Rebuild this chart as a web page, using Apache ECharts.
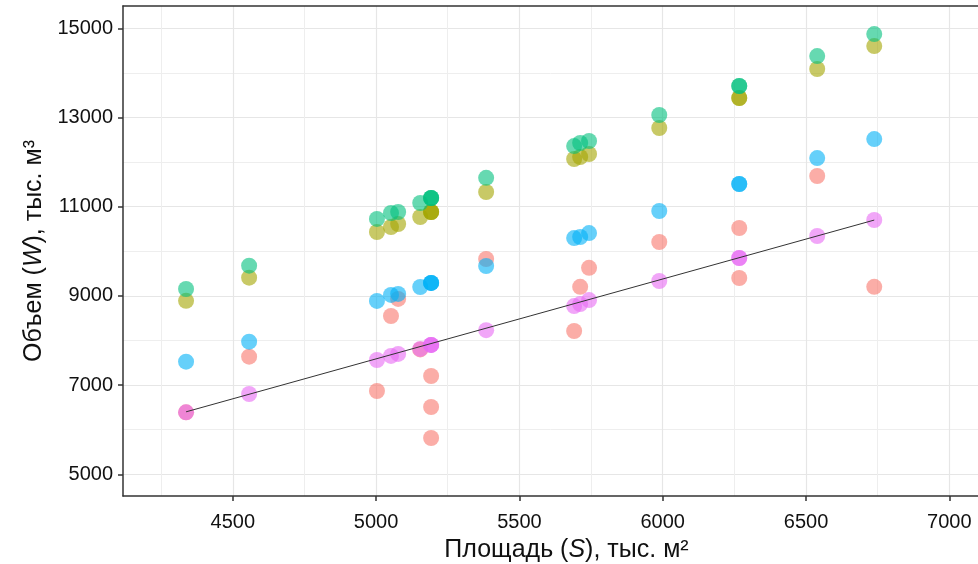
<!DOCTYPE html>
<html>
<head>
<meta charset="utf-8">
<script src="https://cdn.jsdelivr.net/npm/echarts@6/dist/echarts.min.js"></script>
<style>
  html, body { margin: 0; padding: 0; background: #fff; }
  #graph_1 { width: 978px; height: 564px; }
</style>
</head>
<body>
<div id="graph_1"></div>
<script>
// площадь объектов, тыс. м2 (по наблюдениям)
var area = [4337, 4557, 5003, 5052, 5077, 5154, 5192, 5192, 5192, 5384, 5691, 5712, 5743, 5988, 6267, 6267, 6539, 6738];

// объемы по пяти рядам, тыс. м3
var volRed     = [6390, 7637, 6868, 8549, 8933, 7800, 7204, 6509, 5814, 9827, 8212, 9204, 9630, 10208, 10522, 9401, 11688, 9204];
var volOlive   = [8890, 9408, 10433, 10545, 10612, 10769, 10881, 10881, 10881, 11329, 12069, 12114, 12181, 12764, 13437, 13437, 14087, 14602];
var volGreen   = [9154, 9677, 10725, 10859, 10881, 11083, 11195, 11195, 11195, 11648, 12360, 12428, 12473, 13056, 13706, 13706, 14378, 14871];
var volBlue    = [7524, 7973, 8887, 9022, 9045, 9200, 9291, 9291, 9291, 9670, 10297, 10320, 10409, 10903, 11509, 11509, 12091, 12517];
var volMagenta = [6390, 6800, 7563, 7653, 7698, 7810, 7900, 7900, 7900, 8232, 8772, 8817, 8906, 9334, 9850, 9850, 10343, 10702];

// линия тренда (концы)
var trendX = [4337, 6738];
var trendY = [6400, 10700];

// подписи осей
var xTicks = [4500, 5000, 5500, 6000, 6500, 7000];
var xMinor = [4250, 4750, 5250, 5750, 6250, 6750];
var yTicks = [5000, 7000, 9000, 11000, 13000, 15000];
var yMinor = [6000, 8000, 10000, 12000, 14000];

var colors = ['#F8766D', '#A3A500', '#00BF7D', '#00B0F6', '#E76BF3'];
var groups = [volRed, volOlive, volGreen, volBlue, volMagenta];

var FONT = 'Liberation Sans, Arial, sans-serif';
var xMin = 4117, xMax = 7100, yMin = 4513, yMax = 15500;

function pairs(xs, ys) {
    return xs.map(function (x, i) { return [x, ys[i]]; });
}
function plain(v) { return String(v); }

var myChart = echarts.init(document.getElementById('graph_1'));

var series = groups.map(function (vals, i) {
    return {
        type: 'scatter',
        data: pairs(area, vals),
        symbolSize: 16,
        itemStyle: { color: colors[i], opacity: 0.6 },
        z: 3
    };
});
series.push({
    type: 'line',
    data: pairs(trendX, trendY),
    symbol: 'none',
    lineStyle: { color: '#333', width: 1 },
    z: 5
});

function nameStyle(pad) {
    return {
        fontSize: 25, color: '#111', fontFamily: FONT, padding: pad,
        rich: { i: { fontStyle: 'italic', fontSize: 25, color: '#111', fontFamily: FONT } }
    };
}

var option = {
    animation: false,
    backgroundColor: '#fff',
    grid: { left: 123, top: 6, right: 0, bottom: 68, containLabel: false, outerBoundsMode: 'none' },
    xAxis: [
        {
            type: 'value', min: xMin, max: xMax, position: 'bottom',
            axisLine: { show: true, lineStyle: { color: '#333', width: 1.5 } },
            axisTick: { show: true, inside: false, length: 5, customValues: xTicks, lineStyle: { color: '#333', width: 1.5 } },
            axisLabel: { customValues: xTicks, formatter: plain, fontSize: 20, color: '#111', fontFamily: FONT, margin: 16 },
            splitLine: { show: true, lineStyle: { color: '#e6e6e6', width: 1.2 } },
            name: 'Площадь ({i|S}), тыс. м²',
            nameLocation: 'middle',
            nameGap: 42,
            nameTextStyle: nameStyle([0, 0, 0, 32])
        },
        {
            type: 'value', min: xMin, max: xMax, position: 'bottom',
            axisLine: { show: false },
            axisTick: { show: false, customValues: xMinor },
            axisLabel: { show: false },
            splitLine: { show: true, lineStyle: { color: '#eeeeee', width: 1 } }
        },
        {
            type: 'value', min: xMin, max: xMax, position: 'top',
            axisLine: { show: true, lineStyle: { color: '#333', width: 1.5 } },
            axisTick: { show: false },
            axisLabel: { show: false },
            splitLine: { show: false }
        }
    ],
    yAxis: [
        {
            type: 'value', min: yMin, max: yMax, position: 'left',
            axisLine: { show: true, lineStyle: { color: '#333', width: 1.5 } },
            axisTick: { show: true, inside: false, length: 5, customValues: yTicks, lineStyle: { color: '#333', width: 1.5 } },
            axisLabel: { customValues: yTicks, formatter: plain, fontSize: 20, color: '#111', fontFamily: FONT, margin: 10 },
            splitLine: { show: true, lineStyle: { color: '#e6e6e6', width: 1.2 } },
            name: 'Объем ({i|W}), тыс. м³',
            nameLocation: 'middle',
            nameGap: 76,
            nameTextStyle: nameStyle(0)
        },
        {
            type: 'value', min: yMin, max: yMax, position: 'left',
            axisLine: { show: false },
            axisTick: { show: false, customValues: yMinor },
            axisLabel: { show: false },
            splitLine: { show: true, lineStyle: { color: '#eeeeee', width: 1 } }
        }
    ],
    series: series
};

myChart.setOption(option);
</script>
</body>
</html>
